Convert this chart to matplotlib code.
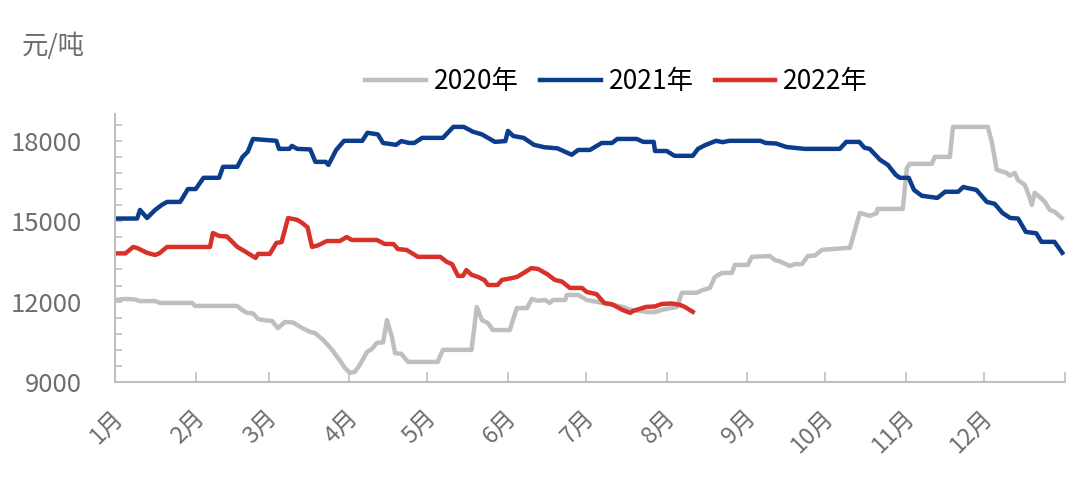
import matplotlib
matplotlib.use("Agg")
import matplotlib.pyplot as plt
import matplotlib.transforms as mtransforms
from matplotlib.ticker import MultipleLocator

plt.rcParams['font.family'] = ['Noto Sans CJK SC', 'DejaVu Sans']

# day of year -> price (元/吨)
days_2020 = [0, 4, 7.7, 9.6, 15.4, 17.3, 29.6, 30.7, 46.9, 48.8, 50.7, 53, 55, 57.6, 60.3,
             62.6, 65.3, 68.4, 72, 75, 76.8, 80, 83.4, 85.7, 88.4, 90.3, 92.2, 94, 96.8,
             98.7, 100.6, 103, 104.5, 106.4, 107.6, 110, 112.6, 124, 126, 137, 139, 141,
             143.3, 145.2, 151.7, 154.4, 158.3, 160.2, 162.5, 165.2, 167, 168.3, 173,
             173.6, 177.9, 181.3, 185.2, 190, 195.2, 197.8, 204.8, 207.5, 210.5, 216,
             217.8, 223.6, 225.5, 228.6, 230.5, 233.2, 237, 238.2, 243.2, 244.7, 251.6,
             253.6, 255.5, 259.3, 261.2, 264, 266.2, 269, 271.6, 282.4, 286.2, 290, 292.7,
             293, 302.7, 304.3, 305.4, 313.9, 315, 320.8, 322, 335.4, 337, 338.8, 342.7,
             343.8, 345.8, 346.9, 349.6, 351.5, 352.3, 353.4, 355.4, 357.3, 359.2, 361.1,
             363.8]
price_2020 = [12060, 12100, 12080, 12020, 12020, 11950, 11950, 11840, 11840, 11690, 11580,
              11560, 11350, 11300, 11280, 11010, 11240, 11220, 11010, 10870, 10830, 10570,
              10200, 9900, 9520, 9340, 9380, 9630, 10120, 10230, 10460, 10480, 11310, 10680,
              10080, 10050, 9750, 9750, 10200, 10200, 11800, 11310, 11200, 10940, 10940,
              11760, 11760, 12100, 12030, 12060, 11950, 12060, 12060, 12250, 12250, 12060,
              11990, 11900, 11800, 11700, 11610, 11610, 11700, 11800, 12330, 12330, 12420,
              12510, 12920, 13070, 13070, 13370, 13370, 13670, 13700, 13550, 13500, 13330,
              13400, 13400, 13700, 13720, 13930, 14010, 15310, 15200, 15300, 15460, 15460,
              16990, 17140, 17140, 17400, 17400, 18520, 18520, 17920, 16920, 16800, 16700,
              16800, 16540, 16360, 15870, 15610, 16060, 15900, 15720, 15420, 15350, 15120]

days_2021 = [0, 8.5, 9.6, 12.3, 15.4, 18, 20, 25, 26, 28, 31, 34, 40, 41.5, 47, 49, 51, 53,
             62, 63, 67, 68, 70, 75, 77, 81, 82, 85, 88, 95, 97, 101, 103, 108, 110, 113,
             115, 118, 126, 130, 134, 137.5, 141, 146, 150, 151, 153, 157, 161, 165, 170,
             175.5, 178, 182.5, 187, 191, 193, 200.5, 203, 207, 207.5, 212, 215, 222, 224,
             227, 231, 233.5, 236, 248, 250, 254, 258, 265, 278.5, 281, 286, 288, 290, 294,
             297, 300, 301.6, 305, 307, 310, 316, 319, 324, 326, 327, 331, 335, 338, 341,
             344, 347, 350, 354, 356, 361, 364]
price_2021 = [15100, 15100, 15420, 15120, 15420, 15610, 15720, 15720, 15870, 16200, 16200,
              16620, 16620, 17030, 17030, 17400, 17590, 18070, 18000, 17700, 17700, 17810,
              17700, 17680, 17215, 17215, 17100, 17660, 18000, 18000, 18300, 18240, 17920,
              17850, 17990, 17920, 17920, 18110, 18110, 18520, 18520, 18340, 18240, 17960,
              17990, 18370, 18180, 18110, 17850, 17760, 17720, 17480, 17660, 17660, 17920,
              17920, 18070, 18070, 17960, 17960, 17620, 17620, 17440, 17440, 17700, 17850,
              18000, 17950, 18000, 18000, 17920, 17900, 17770, 17700, 17700, 17960, 17960,
              17740, 17700, 17290, 17100, 16730, 16620, 16620, 16170, 15950, 15870, 16100,
              16100, 16280, 16250, 16170, 15720, 15650, 15310, 15120, 15100, 14600, 14550,
              14230, 14230, 13820]

days_2022 = [0, 4, 7, 8.5, 12.3, 15.4, 17, 20, 36.5, 37.6, 40, 43, 47, 50, 54, 55, 59.5,
             62, 64, 66.5, 70, 72, 74, 75.7, 78, 81.4, 86.4, 89, 91, 100.6, 103.7, 107,
             108.7, 112, 116.4, 125, 127.5, 129.5, 131.8, 133.7, 135, 137, 139.5, 142,
             143.3, 147, 148.7, 151, 154.4, 156.7, 160, 162.5, 166, 169, 171.7, 174.8,
             179.4, 181.3, 185, 188, 191, 195, 198, 199, 204, 207.5, 210, 214, 217, 219, 222]
price_2022 = [13800, 13800, 14040, 14000, 13820, 13740, 13800, 14040, 14040, 14560, 14450,
              14430, 14040, 13870, 13630, 13780, 13780, 14190, 14220, 15120, 15050, 14930,
              14770, 14040, 14100, 14260, 14260, 14410, 14300, 14300, 14150, 14150, 13960,
              13930, 13670, 13670, 13480, 13400, 12960, 12960, 13180, 13000, 12920, 12800,
              12620, 12620, 12810, 12850, 12920, 13050, 13250, 13220, 13030, 12810, 12750,
              12510, 12510, 12360, 12280, 11950, 11900, 11690, 11580, 11650, 11800, 11820,
              11910, 11930, 11880, 11800, 11620]

month_starts = [0, 31, 59, 90, 120, 151, 181, 212, 243, 273, 304, 334, 365]
month_labels = ['1月', '2月', '3月', '4月', '5月', '6月', '7月', '8月', '9月', '10月', '11月', '12月', '']

fig = plt.figure(figsize=(10.8, 4.9), dpi=100)
ax = fig.add_axes([0.1065, 0.2204, 0.8795, 0.5469])

ax.plot(days_2020, price_2020, color='#BFBFBF', lw=3.2, label='2020年', solid_joinstyle='round')
ax.plot(days_2021, price_2021, color='#0B3D8C', lw=3.2, label='2021年', solid_joinstyle='round')
ax.plot(days_2022, price_2022, color='#D8312A', lw=3.2, label='2022年', solid_joinstyle='round')

ax.set_xlim(0, 365)
ax.set_ylim(9000, 19000)

for s in ['top', 'right']:
    ax.spines[s].set_visible(False)
for s in ['left', 'bottom']:
    ax.spines[s].set_color('#BFBFBF')
    ax.spines[s].set_linewidth(1.5)

ax.set_yticks([9000, 12000, 15000, 18000])
ax.yaxis.set_minor_locator(MultipleLocator(600))
ax.tick_params(axis='y', which='both', direction='in', length=5, width=1.2,
               color='#BFBFBF', labelsize=18.5, labelcolor='#6E6E6E', pad=24)

ax.set_xticks(month_starts)
ax.set_xticklabels(month_labels, rotation=45, ha='right')
ax.tick_params(axis='x', direction='in', length=7, width=1.2, color='#BFBFBF',
               labelsize=17, labelcolor='#6E6E6E', pad=17)
# shift the slanted month labels a little to the right, like the original
offset = mtransforms.ScaledTranslation(13 / 100, 0, fig.dpi_scale_trans)
for lab in ax.get_xticklabels():
    lab.set_transform(lab.get_transform() + offset)

fig.text(0.02, 0.905, '元/吨', fontsize=19, color='#6E6E6E', va='center')

fig.legend(loc='center', bbox_to_anchor=(0.571, 0.833), ncol=3, frameon=False,
           fontsize=19, handlelength=2.3, handletextpad=0.3, columnspacing=0.8)

fig.savefig('out.png', dpi=100)
